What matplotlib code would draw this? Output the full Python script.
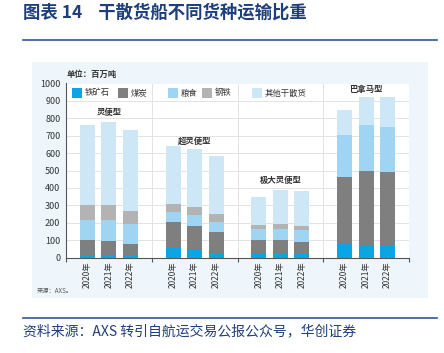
import matplotlib
matplotlib.use('Agg')
import matplotlib.pyplot as plt
from matplotlib import patches
from matplotlib.lines import Line2D
import numpy as np

plt.rcParams['font.family'] = ['Noto Sans CJK SC', 'DejaVu Sans']

# data (百万吨), 3 years per ship type
ship_types = ['灵便型', '超灵便型', '极大灵便型', '巴拿马型']
years = ['2020年', '2021年', '2022年']
cargo = ['铁矿石', '煤炭', '粮食', '钢铁', '其他干散货']
iron_ore = [15, 15, 12, 55, 42, 27, 23, 23, 19, 75, 74, 70]
coal = [85, 80, 68, 149, 139, 122, 76, 76, 71, 385, 422, 422]
grain = [117, 118, 114, 57, 61, 55, 67, 63, 66, 242, 263, 258]
steel = [82, 86, 73, 44, 51, 47, 19, 28, 25, 2, 2, 2]
other = [461, 481, 468, 333, 333, 332, 165, 199, 204, 146, 162, 171]
label_y = [835, 670, 445, 965]

colors = ['#0aa5e2', '#7f7f7f', '#9fd4f2', '#b3b3b3', '#cde7f7']

fig = plt.figure(figsize=(4.44, 3.53), dpi=100)
W, H = 444, 353


def fx(px):
    return px / W


def fy(py):
    return 1 - py / H


# pale panel behind the chart
fig.patches.append(patches.Rectangle((fx(32), fy(298)), fx(428) - fx(32), fy(62) - fy(298),
                                     transform=fig.transFigure, facecolor='#eef6fc',
                                     edgecolor='none', zorder=-5))

ax = fig.add_axes([fx(66), fy(257.5), fx(409) - fx(66), fy(83.5) - fy(257.5)])
ax.set_facecolor('white')
ax.set_zorder(2)

x = np.array([g * 4 + k + 1 for g in range(4) for k in range(3)], dtype=float)
series = [iron_ore, coal, grain, steel, other]
bottom = np.zeros(len(x))
for vals, c in zip(series, colors):
    ax.bar(x, vals, width=0.7, bottom=bottom, color=c, zorder=3, linewidth=0)
    bottom += np.array(vals)

ax.set_xlim(0, 16)
ax.set_ylim(0, 1000)
ax.set_yticks(range(0, 1001, 100))
ax.set_xticks([0, 4, 8, 12, 16])
ax.set_xticklabels([])
ax.set_xticks(x, minor=True)
ax.set_xticklabels(years * 4, minor=True, rotation=90, fontsize=6, color='#333333')
ax.tick_params(axis='x', which='minor', length=0, pad=3)
ax.tick_params(axis='x', which='major', length=3, width=0.8, color='#555555', direction='out')
ax.tick_params(axis='y', length=0, labelsize=6.5, labelcolor='#333333', pad=4)

for yv in range(100, 1001, 100):
    ax.axhline(yv, color='#e3e3e3', lw=0.7, zorder=1)
for xv in [4, 8, 12, 16]:
    ax.axvline(xv, color='#e3e3e3', lw=0.7, zorder=1)

for s in ['top', 'right']:
    ax.spines[s].set_visible(False)
for s in ['left', 'bottom']:
    ax.spines[s].set_color('#555555')
    ax.spines[s].set_linewidth(0.8)

for g, name in enumerate(ship_types):
    ax.text(g * 4 + 2, label_y[g], name, ha='center', va='center', fontsize=6,
            color='#333333', fontweight='bold', zorder=4)

# legend row
leg_x = [72, 118, 168, 202, 252]
for px, name, c in zip(leg_x, cargo, colors):
    ax.add_patch(patches.Rectangle(((px - 66) / 343, (257.5 - 98) / 174), 10 / 343, 10 / 174,
                                   transform=ax.transAxes, facecolor=c, edgecolor='none',
                                   zorder=4, clip_on=False))
    ax.text((px + 13 - 66) / 343, (257.5 - 93) / 174, name, transform=ax.transAxes,
            ha='left', va='center', fontsize=6, color='#333333', zorder=4)

fig.text(fx(67), fy(74), '单位：百万吨', fontsize=6, fontweight='bold', color='#333333',
         ha='left', va='center')
fig.text(fx(37), fy(291), '来源：AXS。', fontsize=4.5, color='#555555', ha='left', va='center')

# title and source
fig.text(fx(23), fy(13), '图表 14    干散货船不同货种运输比重', fontsize=12.5, fontweight='bold',
         color='#1f3e7c', ha='left', va='center')
fig.add_artist(Line2D([fx(23), fx(437)], [fy(40), fy(40)], color='#2f5597', lw=1.2,
                      transform=fig.transFigure))
fig.add_artist(Line2D([fx(23), fx(437)], [fy(318), fy(318)], color='#2f5597', lw=1.2,
                      transform=fig.transFigure))
fig.text(fx(23), fy(331), '资料来源：AXS 转引自航运交易公报公众号，华创证券', fontsize=10,
         color='#1f3e7c', ha='left', va='center')

fig.savefig('out.png', dpi=100)
